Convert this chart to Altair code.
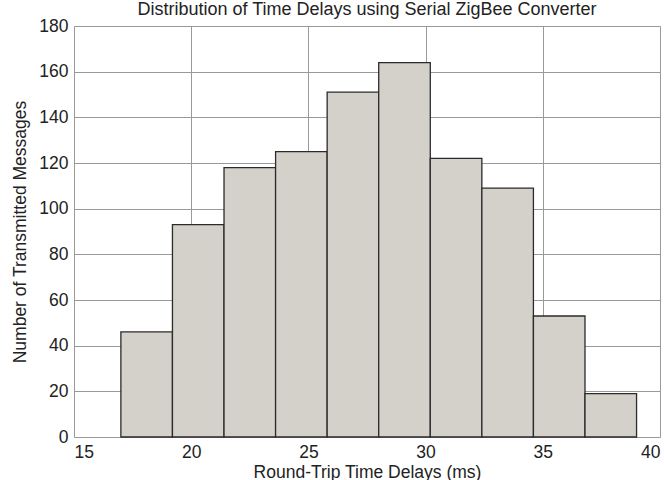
import altair as alt
import pandas as pd

bin_start = [17.0, 19.2, 21.4, 23.6, 25.8, 28.0, 30.2, 32.4, 34.6, 36.8]
bin_end = [19.2, 21.4, 23.6, 25.8, 28.0, 30.2, 32.4, 34.6, 36.8, 39.0]
counts = [46, 93, 118, 125, 151, 164, 122, 109, 53, 19]

df = pd.DataFrame({"start": bin_start, "end": bin_end, "count": counts})

FONT = "Liberation Sans"
FS = 17.5

chart = alt.Chart(df).mark_rect(
    fill="#d4d1ca", stroke="#2b2b2b", strokeWidth=1.3
).encode(
    x=alt.X("start:Q",
            scale=alt.Scale(domain=[15, 40], nice=False, zero=False),
            axis=alt.Axis(values=[15, 20, 25, 30, 35, 40], title="Round-Trip Time Delays (ms)",
                          grid=True, gridColor="#999999", gridWidth=1,
                          ticks=False, labelPadding=6, titlePadding=3,
                          labelFontSize=FS, titleFontSize=FS, labelColor="#222", titleColor="#222",
                          titleFontWeight="normal",
                          labelFont=FONT, titleFont=FONT, domain=False)),
    x2="end:Q",
    y=alt.Y("count:Q",
            scale=alt.Scale(domain=[0, 180], nice=False),
            axis=alt.Axis(values=list(range(0, 181, 20)), title="Number of Transmitted Messages",
                          grid=True, gridColor="#999999", gridWidth=1,
                          ticks=False, labelPadding=6, titlePadding=9,
                          labelFontSize=FS, titleFontSize=FS, labelColor="#222", titleColor="#222",
                          titleFontWeight="normal",
                          labelFont=FONT, titleFont=FONT, domain=False)),
    y2=alt.datum(0),
).properties(
    width=586,
    height=411,
    title=alt.TitleParams("Distribution of Time Delays using Serial ZigBee Converter",
                          font=FONT, fontSize=18, fontWeight="normal", color="#222", offset=-2),
    autosize=alt.AutoSizeParams(type="none"),
    padding={"left": 74, "top": 26, "right": 4, "bottom": 43},
).configure_view(
    stroke="#111111", strokeWidth=1.6
).configure(background="white")

chart.save("out.html", embed_options={"renderer": "svg", "actions": False})
